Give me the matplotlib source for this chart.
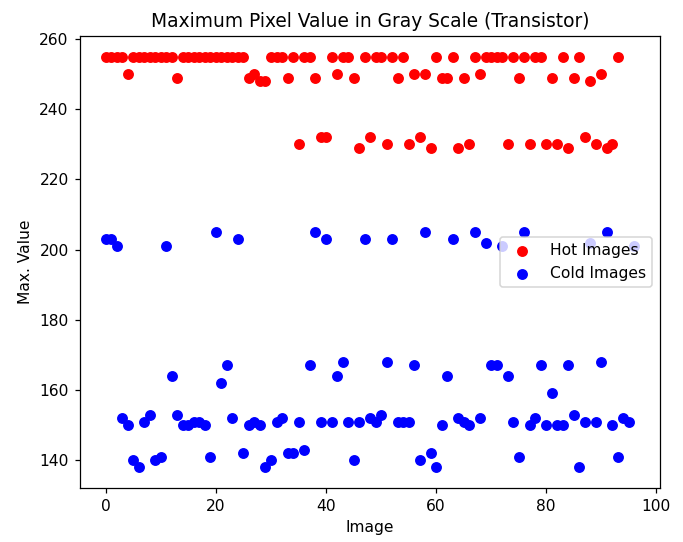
import matplotlib
matplotlib.use("Agg")
import matplotlib.pyplot as plt

hot_values = [
    255, 255, 255, 255, 250, 255, 255, 255, 255, 255,
    255, 255, 255, 249, 255, 255, 255, 255, 255, 255,
    255, 255, 255, 255, 255, 255, 249, 250, 248, 248,
    255, 255, 255, 249, 255, 230, 255, 255, 249, 232,
    232, 255, 250, 255, 255, 249, 229, 255, 232, 255,
    255, 230, 255, 249, 255, 230, 250, 232, 250, 229,
    255, 249, 249, 255, 229, 249, 230, 255, 250, 255,
    255, 255, 255, 230, 255, 249, 255, 230, 255, 255,
    230, 249, 230, 255, 229, 249, 255, 232, 248, 230,
    250, 229, 230, 255,
]

cold_values = [
    203, 203, 201, 152, 150, 140, 138, 151, 153, 140,
    141, 201, 164, 153, 150, 150, 151, 151, 150, 141,
    205, 162, 167, 152, 203, 142, 150, 151, 150, 138,
    140, 151, 152, 142, 142, 151, 143, 167, 205, 151,
    203, 151, 164, 168, 151, 140, 151, 203, 152, 151,
    153, 168, 203, 151, 151, 151, 167, 140, 205, 142,
    138, 150, 164, 203, 152, 151, 150, 205, 152, 202,
    167, 167, 201, 164, 151, 141, 205, 150, 152, 167,
    150, 159, 150, 150, 167, 153, 138, 151, 202, 151,
    168, 205, 150, 141, 152, 151, 201,
]

hot_x = list(range(len(hot_values)))
cold_x = list(range(len(cold_values)))

DPI = 112
fig = plt.figure(figsize=(683 / DPI, 542 / DPI), dpi=DPI)
ax = fig.add_axes([0.1165, 0.1002, 0.8505, 0.8332])
ax.scatter(hot_x, hot_values, color="red", label="Hot Images")
ax.scatter(cold_x, cold_values, color="blue", label="Cold Images")
ax.set_title("Maximum Pixel Value in Gray Scale (Transistor)")
ax.set_xlabel("Image")
ax.set_ylabel("Max. Value")
ax.legend(loc="center right", borderaxespad=0.55)
fig.savefig("out.png", dpi=DPI)
